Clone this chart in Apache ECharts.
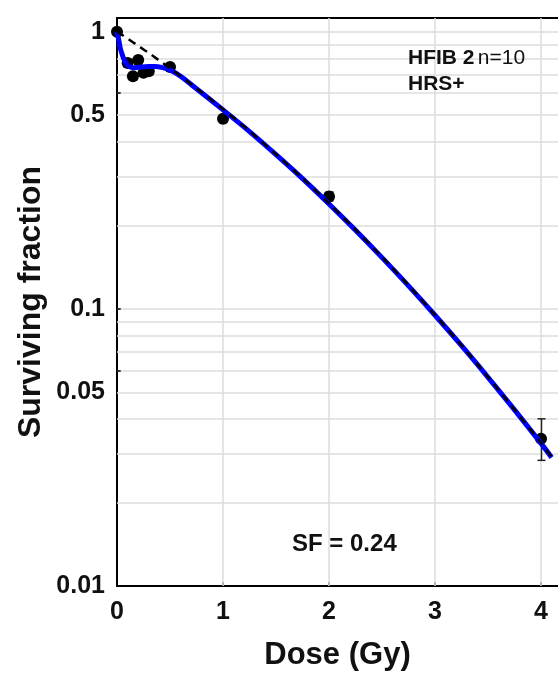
<!DOCTYPE html>
<html>
<head>
<meta charset="utf-8">
<script src="https://cdn.jsdelivr.net/npm/echarts@6/dist/echarts.min.js"></script>
<style>
  html, body { margin: 0; padding: 0; background: #ffffff; }
  #chart { width: 558px; height: 678px; }
</style>
</head>
<body>
<div id="chart"></div>
<script>
// Measured survival (dose in Gy, surviving fraction, error limits)
const doses     = [0, 0.1, 0.15, 0.2, 0.25, 0.3, 0.5, 1, 2, 4];
const survival  = [1.0, 0.77, 0.69, 0.79, 0.71, 0.72, 0.745, 0.485, 0.254, 0.034];
const errLow    = [1.0, 0.745, 0.67, 0.765, 0.69, 0.70, 0.725, 0.47, 0.245, 0.0284];
const errHigh   = [1.0, 0.795, 0.71, 0.815, 0.73, 0.74, 0.765, 0.50, 0.264, 0.0401];

// Induced-repair fit (solid blue)
const irDose = [0, 0.015, 0.03, 0.045, 0.06, 0.08, 0.1, 0.13, 0.17, 0.23, 0.3, 0.36, 0.42, 0.5, 0.6, 0.75, 1, 1.25, 1.5, 1.75, 2, 2.25, 2.5, 2.75, 3, 3.25, 3.5, 3.75, 4, 4.1];
const irSF   = [1, 0.94, 0.875, 0.835, 0.805, 0.775, 0.757, 0.744, 0.741, 0.746, 0.749, 0.749, 0.743, 0.727, 0.69, 0.622, 0.522, 0.436, 0.36, 0.295, 0.239, 0.192, 0.153, 0.121, 0.0948, 0.0736, 0.0566, 0.0432, 0.0327, 0.0291];

// Linear-quadratic fit (dashed black)
const lqDose = [0, 0.1, 0.2, 0.3, 0.4, 0.5, 0.75, 1, 1.25, 1.5, 1.75, 2, 2.25, 2.5, 2.75, 3, 3.25, 3.5, 3.75, 4, 4.1];
const lqSF   = [1, 0.944, 0.889, 0.837, 0.786, 0.738, 0.625, 0.526, 0.438, 0.361, 0.296, 0.24, 0.193, 0.154, 0.1215, 0.0951, 0.0738, 0.0568, 0.0433, 0.0328, 0.0292];

// Axis labels and grid
const xTickLabels = [0, 1, 2, 3, 4];
const yTickLabels = [1, 0.5, 0.1, 0.05, 0.01];
const yInnerTicks = [1, 0.6, 0.1, 0.06];
const yGridValues = [0.02, 0.03, 0.04, 0.05, 0.06, 0.07, 0.08, 0.09, 0.1,
                     0.2, 0.3, 0.4, 0.5, 0.6, 0.7, 0.8, 0.9, 1];
const xGridValues = [1, 2, 3, 4];

const FONT = 'Liberation Sans, Arial, Helvetica, sans-serif';

const zip = (a, b) => a.map((v, i) => [v, b[i]]);

const gridLineStyle = { color: '#dcdcdc', width: 1.5, type: 'solid' };
const tickLabelStyle = { show: true, position: 'start', distance: 12,
  color: '#111', fontSize: 25, fontWeight: 'bold', fontFamily: FONT };

const yGridLines = yGridValues.map(v => {
  const item = { yAxis: v, lineStyle: gridLineStyle };
  if (yTickLabels.indexOf(v) >= 0) {
    item.label = Object.assign({}, tickLabelStyle, { formatter: String(v) });
  }
  return item;
});
// 0.01 sits on the x axis: label only, no grid line
yGridLines.push({
  yAxis: 0.01, lineStyle: { width: 0, color: 'transparent' },
  label: Object.assign({}, tickLabelStyle, { formatter: '0.01' })
});
const xGridLines = xGridValues.map(v => ({ xAxis: v, lineStyle: gridLineStyle }));
const yTickMarks = yInnerTicks.map(v => [
  { coord: [0, v] }, { coord: [0.035, v] }
]);

const chart = echarts.init(document.getElementById('chart'), null, { renderer: 'canvas' });

chart.setOption({
  animation: false,
  backgroundColor: '#ffffff',
  grid: { left: 117, right: 0, top: 18, bottom: 92, containLabel: false },
  xAxis: [{
    type: 'value', min: 0, max: 4.16, interval: 1,
    position: 'bottom',
    name: 'Dose (Gy)', nameLocation: 'middle', nameGap: 54,
    nameTextStyle: { color: '#111', fontSize: 31, fontWeight: 'bold', fontFamily: FONT },
    axisLine: { show: true, onZero: false, lineStyle: { color: '#000', width: 2 } },
    axisTick: { show: true, inside: true, length: 4, customValues: [1, 2, 3, 4],
                lineStyle: { color: '#000', width: 1.5 } },
    axisLabel: { customValues: xTickLabels, margin: 14, color: '#111', fontSize: 25,
                 fontWeight: 'bold', fontFamily: FONT },
    splitLine: { show: false }
  }, {
    type: 'value', min: 0, max: 4.16, position: 'top',
    axisLine: { show: true, onZero: false, lineStyle: { color: '#000', width: 2 } },
    axisTick: { show: false }, axisLabel: { show: false }, splitLine: { show: false }
  }],
  yAxis: {
    type: 'log', logBase: 10, min: 0.01, max: 1.12,
    name: 'Surviving fraction', nameLocation: 'middle', nameGap: 70,
    nameTextStyle: { color: '#111', fontSize: 32, fontWeight: 'bold', fontFamily: FONT },
    axisLine: { show: true, onZero: false, lineStyle: { color: '#000', width: 2 } },
    axisTick: { show: false },
    axisLabel: { show: false },
    splitLine: { show: false },
    minorSplitLine: { show: false }
  },
  graphic: [
    {
      type: 'text', left: 408, top: 48, z: 30,
      style: {
        text: '{b|HFIB 2} {n|n=10}',
        rich: {
          b: { fontSize: 21, fontWeight: 'bold', fontFamily: FONT, fill: '#111' },
          n: { fontSize: 21, fontWeight: 'normal', fontFamily: FONT, fill: '#111' }
        }
      }
    },
    {
      type: 'text', left: 408, top: 74, z: 30,
      style: { text: 'HRS+', fontSize: 21, fontWeight: 'bold', fontFamily: FONT, fill: '#111' }
    },
    {
      type: 'text', left: 292, top: 532, z: 30,
      style: { text: 'SF = 0.24', fontSize: 24, fontWeight: 'bold', fontFamily: FONT, fill: '#111' }
    }
  ],
  series: [
    {
      name: 'grid', type: 'line', data: [], z: 1, silent: true,
      markLine: {
        z: 1, silent: true, symbol: ['none', 'none'], animation: false,
        label: { show: false },
        data: yGridLines.concat(xGridLines)
      }
    },
    {
      name: 'ticks', type: 'line', data: [], z: 20, silent: true,
      markLine: {
        z: 20, silent: true, symbol: ['none', 'none'], animation: false,
        label: { show: false },
        lineStyle: { color: '#000', width: 1.5, type: 'solid' },
        data: yTickMarks
      }
    },
    {
      name: 'error', type: 'custom', z: 10,
      data: doses.map((d, i) => [d, errLow[i], errHigh[i]]),
      renderItem: function (params, api) {
        const x = Math.round(api.coord([api.value(0), 1])[0]) + 0.5;
        const yLo = api.coord([api.value(0), api.value(1)])[1];
        const yHi = api.coord([api.value(0), api.value(2)])[1];
        const w = 4;
        const mk = (x1, y1, x2, y2) => ({
          type: 'line', shape: { x1, y1, x2, y2 },
          style: { stroke: '#222', lineWidth: 1.5, opacity: 1 }
        });
        return {
          type: 'group',
          children: [
            mk(x, yLo, x, yHi),
            mk(x - w, yLo, x + w, yLo),
            mk(x - w, yHi, x + w, yHi)
          ]
        };
      }
    },
    {
      name: 'measured', type: 'scatter', z: 11,
      symbol: 'circle', symbolSize: 12,
      itemStyle: { color: '#000', opacity: 1 },
      data: zip(doses, survival)
    },
    {
      name: 'IR', type: 'line', z: 12,
      showSymbol: false, smooth: 0.3,
      lineStyle: { color: '#0000ff', width: 5 },
      data: zip(irDose, irSF)
    },
    {
      name: 'LQ', type: 'line', z: 13,
      showSymbol: false, smooth: 0.3,
      lineStyle: { color: '#000', width: 2.5, type: [8, 6] },
      data: zip(lqDose, lqSF)
    }
  ]
});
</script>
</body>
</html>
